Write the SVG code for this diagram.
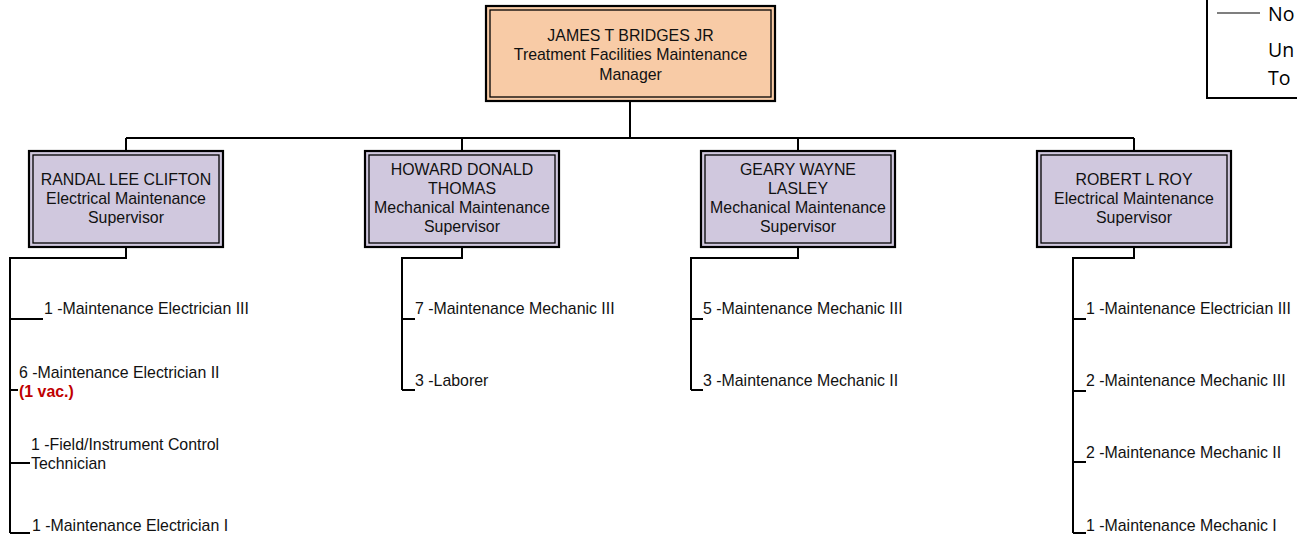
<svg xmlns="http://www.w3.org/2000/svg" width="1297" height="536" viewBox="0 0 1297 536">
<style>
  .t { font-family: "Liberation Sans", Arial, sans-serif; font-size: 15.9px; fill: #111; }
  .c { text-anchor: middle; }
  .vac { font-weight: bold; fill: #C00000; }
  .outer { stroke: #000; stroke-width: 2.2; }
  .inner { fill: none; stroke: #000; stroke-width: 1.3; }
  .mgr { fill: #F8CBA6; }
  .sup { fill: #D0C8DE; }
  .conn { fill: none; stroke: #000; stroke-width: 2; }
  .leg { font-family: "Open Sans", "Liberation Sans", sans-serif; font-size: 19.5px; fill: #000; }
</style>
<rect width="1297" height="536" fill="#fff"/>

<g id="legend">
  <rect x="1207" y="-10" width="200" height="108" fill="#fff" stroke="#000" stroke-width="2"/>
  <line x1="1217" y1="13" x2="1260" y2="13" stroke="#000" stroke-width="1.2"/>
  <text class="leg" x="1268" y="20.7">No</text>
  <text class="leg" x="1268" y="56.7">Un</text>
  <text class="leg" x="1268" y="85">To</text>
</g>

<g id="connectors">
  <path class="conn" d="M630,101 V138 M126,138 H1134 M126,138 V151 M462,138 V151 M798,138 V151 M1134,138 V151"/>
  <path class="conn" d="M126,247 V258 H10 V533 M10,319 H43 M10,390 H18 M10,463 H30 M10,533 H30"/>
  <path class="conn" d="M462,247 V258 H402 V390 M402,319 H415 M402,390 H415"/>
  <path class="conn" d="M798,247 V258 H691 V390 M691,319 H703 M691,390 H703"/>
  <path class="conn" d="M1134,247 V258 H1073 V533 M1073,319 H1086 M1073,391 H1086 M1073,462 H1086 M1073,533 H1086"/>
</g>

<g id="manager">
  <rect class="outer mgr" x="486" y="6" width="289" height="95"/>
  <rect class="inner" x="490" y="10" width="281" height="87"/>
  <text class="t c" x="630.5" y="40.5">JAMES T BRIDGES JR</text>
  <text class="t c" x="630.5" y="60">Treatment Facilities Maintenance</text>
  <text class="t c" x="630.5" y="79.5">Manager</text>
</g>

<g id="sup-clifton">
  <rect class="outer sup" x="29" y="151" width="194" height="96"/>
  <rect class="inner" x="33" y="155" width="186" height="88"/>
  <text class="t c" x="126" y="185">RANDAL LEE CLIFTON</text>
  <text class="t c" x="126" y="204">Electrical Maintenance</text>
  <text class="t c" x="126" y="223">Supervisor</text>
</g>

<g id="sup-thomas">
  <rect class="outer sup" x="365" y="151" width="194" height="96"/>
  <rect class="inner" x="369" y="155" width="186" height="88"/>
  <text class="t c" x="462" y="175">HOWARD DONALD</text>
  <text class="t c" x="462" y="194">THOMAS</text>
  <text class="t c" x="462" y="213">Mechanical Maintenance</text>
  <text class="t c" x="462" y="232">Supervisor</text>
</g>

<g id="sup-lasley">
  <rect class="outer sup" x="701" y="151" width="194" height="96"/>
  <rect class="inner" x="705" y="155" width="186" height="88"/>
  <text class="t c" x="798" y="175">GEARY WAYNE</text>
  <text class="t c" x="798" y="194">LASLEY</text>
  <text class="t c" x="798" y="213">Mechanical Maintenance</text>
  <text class="t c" x="798" y="232">Supervisor</text>
</g>

<g id="sup-roy">
  <rect class="outer sup" x="1037" y="151" width="194" height="96"/>
  <rect class="inner" x="1041" y="155" width="186" height="88"/>
  <text class="t c" x="1134" y="185">ROBERT L ROY</text>
  <text class="t c" x="1134" y="204">Electrical Maintenance</text>
  <text class="t c" x="1134" y="223">Supervisor</text>
</g>

<g id="clifton-staff">
  <text class="t" x="44" y="314">1 -Maintenance Electrician III</text>
  <text class="t" x="19" y="377.5">6 -Maintenance Electrician II</text>
  <text class="t vac" x="19" y="396.5">(1 vac.)</text>
  <text class="t" x="31" y="449.5">1 -Field/Instrument Control</text>
  <text class="t" x="31" y="468.5">Technician</text>
  <text class="t" x="32" y="530.5">1 -Maintenance Electrician I</text>
</g>

<g id="thomas-staff">
  <text class="t" x="415" y="314">7 -Maintenance Mechanic III</text>
  <text class="t" x="415" y="386">3 -Laborer</text>
</g>

<g id="lasley-staff">
  <text class="t" x="703" y="314">5 -Maintenance Mechanic III</text>
  <text class="t" x="703" y="386">3 -Maintenance Mechanic II</text>
</g>

<g id="roy-staff">
  <text class="t" x="1086" y="314">1 -Maintenance Electrician III</text>
  <text class="t" x="1086" y="386">2 -Maintenance Mechanic III</text>
  <text class="t" x="1086" y="458">2 -Maintenance Mechanic II</text>
  <text class="t" x="1086" y="530.5">1 -Maintenance Mechanic I</text>
</g>
</svg>
